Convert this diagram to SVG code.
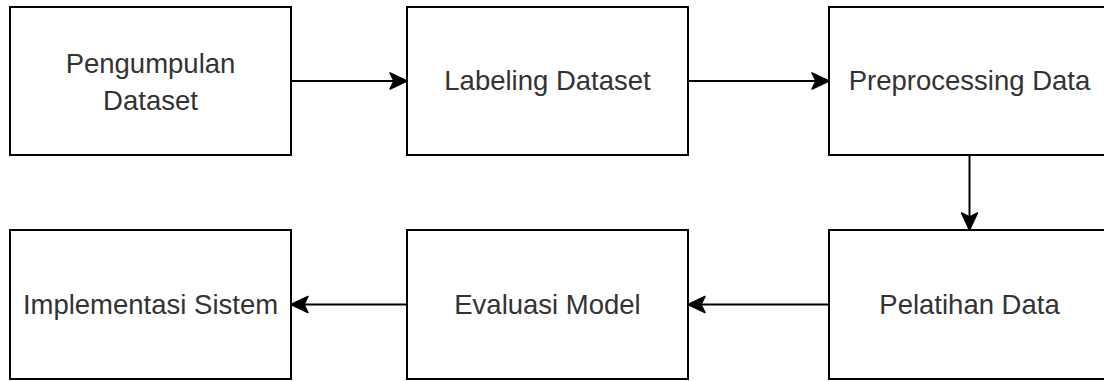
<svg xmlns="http://www.w3.org/2000/svg" width="1104" height="381" viewBox="0 0 1104 381">
<style>
.box{fill:#fff;stroke:#000;stroke-width:2}
.lbl{font-family:"Liberation Sans",Arial,sans-serif;font-size:27.5px;fill:#333;text-anchor:middle}
.edge{stroke:#000;stroke-width:2;fill:none;marker-end:url(#ah)}
</style>
<defs>
<marker id="ah" markerUnits="userSpaceOnUse" markerWidth="20" markerHeight="20" refX="18" refY="10" orient="auto">
<path d="M1,2 L18,10 L1,18 L5,10 Z" fill="#000" stroke="#000" stroke-width="1.5" stroke-linejoin="round"/>
</marker>
</defs>
<rect width="1104" height="381" fill="#fff"/>
<g id="connectors">
<path class="edge" d="M291,81 H407"/>
<path class="edge" d="M688,81 H829"/>
<path class="edge" d="M969.5,155 V230"/>
<path class="edge" d="M829,304.5 H688"/>
<path class="edge" d="M407,304.5 H291"/>
</g>
<g id="n1"><rect class="box" x="10" y="7" width="281" height="148"/><text class="lbl" x="150.5" y="73">Pengumpulan</text><text class="lbl" x="150.5" y="110">Dataset</text></g>
<g id="n2"><rect class="box" x="407" y="7" width="281" height="148"/><text class="lbl" x="547.5" y="90">Labeling Dataset</text></g>
<g id="n3"><rect class="box" x="829" y="7" width="281" height="148"/><text class="lbl" x="969.5" y="90">Preprocessing Data</text></g>
<g id="n4"><rect class="box" x="829" y="230" width="281" height="149"/><text class="lbl" x="969.5" y="314">Pelatihan Data</text></g>
<g id="n5"><rect class="box" x="407" y="230" width="281" height="149"/><text class="lbl" x="547.5" y="314">Evaluasi Model</text></g>
<g id="n6"><rect class="box" x="10" y="230" width="281" height="149"/><text class="lbl" x="150.5" y="314">Implementasi Sistem</text></g>
</svg>
